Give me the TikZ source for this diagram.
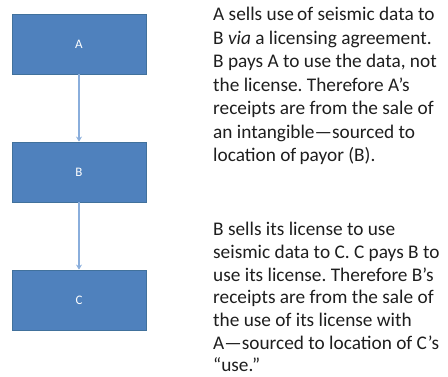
\documentclass[tikz,border=0pt]{standalone}
\usepackage{fontspec}
\setmainfont{Carlito}
\frenchspacing
\usetikzlibrary{arrows.meta}
\definecolor{boxfill}{HTML}{4F81BD}
\definecolor{boxline}{HTML}{41719C}
\definecolor{linkblue}{HTML}{8AAEDC}
\definecolor{bodytext}{HTML}{1E1E1E}
\tikzset{
  entity/.style={draw=boxline, line width=0.8pt, fill=boxfill, minimum width=134pt,
    minimum height=60pt, inner sep=0pt, text=white, font=\fontsize{13}{15}\selectfont},
  link/.style={draw=linkblue, line width=1.6pt, -{Stealth[length=5pt,width=6pt]}},
  note/.style={anchor=base west, align=left, inner sep=0pt, text=bodytext,
    font=\fontsize{19.3}{23.5}\selectfont},
}
\begin{document}
\begin{tikzpicture}[x=1pt,y=1pt]
  \useasboundingbox (0,0) rectangle (448,377);
  % three parties, top to bottom
  \node[entity] (A) at (79,333) {A};
  \node[entity] (B) at (79,205) {B};
  \node[entity] (C) at (79,77) {C};
  \draw[link] (A) -- (B);
  \draw[link] (B) -- (C);
  % explanations (anchored at the baseline of each last line)
  \node[note] (t1) at (213,215) {A sells use\,of seismic data to\\
    B \textit{via} a licensing agreement.\\
    B pays A to use the data, not\\
    the license. Therefore A’s\\
    receipts are from the sale of\\
    an intangible—sourced to\\
    location of\,payor (B).};
  \node[note, font=\fontsize{19.3}{22.7}\selectfont] (t2) at (213,5) {B sells its license to use\\
    seismic data to C. C pays B to\\
    use its license. Therefore B’s\\
    receipts are from the sale of\\
    the use of its license with\\
    A—sourced to location of C’s\\
    “use.”};
\end{tikzpicture}
\end{document}
